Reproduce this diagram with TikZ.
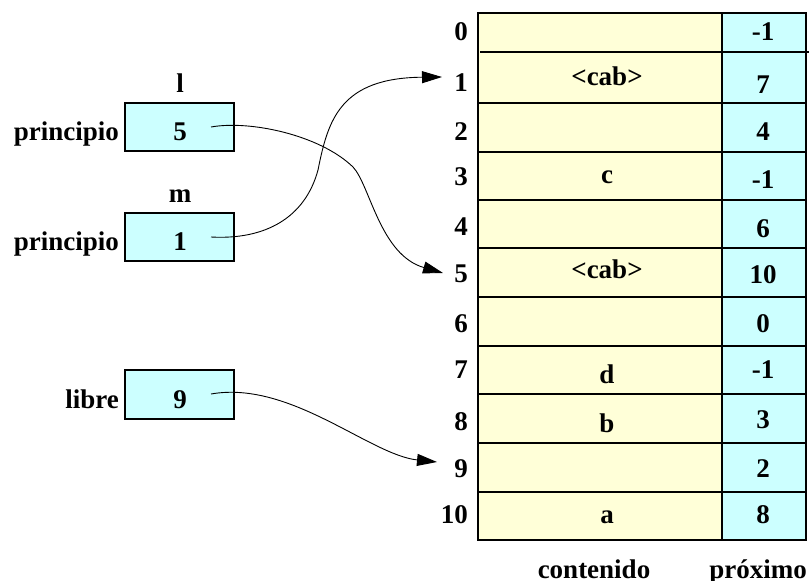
\documentclass[tikz,border=0pt]{standalone}
\usepackage{fontspec}
\setmainfont{Liberation Serif}
\usetikzlibrary{arrows.meta}
\definecolor{cellyellow}{RGB}{255,255,216}
\definecolor{cellcyan}{RGB}{204,255,255}
\tikzset{
  txt/.style={font=\fontsize{27}{30}\selectfont\bfseries, inner sep=0pt, anchor=base},
  rlabel/.style={txt, anchor=base east},
  tabline/.style={line width=1.8pt, black},
  varbox/.style={draw=black, line width=1.3pt, fill=cellcyan, minimum width=109pt, minimum height=48pt, inner sep=0pt},
  ptr/.style={line width=0.9pt, black, -{Triangle[length=20pt,width=12pt]}}
}
\begin{document}
\begin{tikzpicture}[x=1pt,y=-1pt]
\useasboundingbox (0,0) rectangle (809,581);
% table
\fill[cellyellow] (478,13) rectangle (722,540);
\fill[cellcyan] (722,13) rectangle (806,540);
\draw[tabline] (478,13) rectangle (806,540);
\draw[tabline] (722,13) -- (722,540);
\draw[tabline] (480,52) -- (809,52);
\foreach \yy in {103,152,200,248,297,346,394,443,492}
  \draw[tabline] (478,\yy) -- (806,\yy);
% row indices
\node[rlabel] (r0) at (468,40) {0};
\node[rlabel] (r1) at (468,91) {1};
\node[rlabel] (r2) at (468,140) {2};
\node[rlabel] (r3) at (468,185) {3};
\node[rlabel] (r4) at (468,235) {4};
\node[rlabel] (r5) at (468,282) {5};
\node[rlabel] (r6) at (468,332) {6};
\node[rlabel] (r7) at (468,378) {7};
\node[rlabel] (r8) at (468,430) {8};
\node[rlabel] (r9) at (468,477) {9};
\node[rlabel] (r10) at (468,523) {10};
% contenido
\node[txt] (c1) at (607,85) {<cab>};
\node[txt] (c3) at (607,183) {c};
\node[txt] (c5) at (607,278) {<cab>};
\node[txt] (c7) at (607,383) {d};
\node[txt] (c8) at (607,432) {b};
\node[txt] (c10) at (607,523) {a};
% proximo
\node[txt] (p0) at (763,40) {-1};
\node[txt] (p1) at (763,93) {7};
\node[txt] (p2) at (763,140) {4};
\node[txt] (p3) at (763,188) {-1};
\node[txt] (p4) at (763,237) {6};
\node[txt] (p5) at (763,283) {10};
\node[txt] (p6) at (763,332) {0};
\node[txt] (p7) at (763,378) {-1};
\node[txt] (p8) at (763,428) {3};
\node[txt] (p9) at (763,477) {2};
\node[txt] (p10) at (763,523) {8};
% column headings
\node[txt] (hc) at (594,578) {contenido};
\node[txt] (hp) at (758,578) {próximo};
% variables
\node[varbox] (bl) at (179.5,127) {};
\node[varbox] (bm) at (179.5,237) {};
\node[varbox, minimum height=49pt] (bf) at (179.5,394.5) {};
\node[txt] (vl) at (180,140) {5};
\node[txt] (vm) at (180,250) {1};
\node[txt] (vf) at (180,408) {9};
\node[txt] (nl) at (180,92) {l};
\node[txt] (nm) at (180,202) {m};
\node[rlabel] (pl) at (119,140) {principio};
\node[rlabel] (pm) at (119,250) {principio};
\node[rlabel] (lf) at (119,408) {libre};
% pointer ends
\coordinate (s5) at (211,127);
\coordinate (s1) at (211,237);
\coordinate (s9) at (211,394);
\coordinate (t1) at (442,77);
\coordinate (t5) at (443,273);
\coordinate (t9) at (437,462);
\coordinate (j1) at (318,170);
\coordinate (j5) at (353,167);
% pointers
\draw[ptr] (s1) .. controls (265,240) and (305,218) .. (j1)
  .. controls (328,120) and (340,78) .. (t1);
\draw[ptr] (s5) .. controls (250,120) and (320,135) .. (j5)
  .. controls (370,185) and (380,255) .. (t5);
\draw[ptr] (s9) .. controls (290,380) and (370,455) .. (t9);
\end{tikzpicture}
\end{document}
